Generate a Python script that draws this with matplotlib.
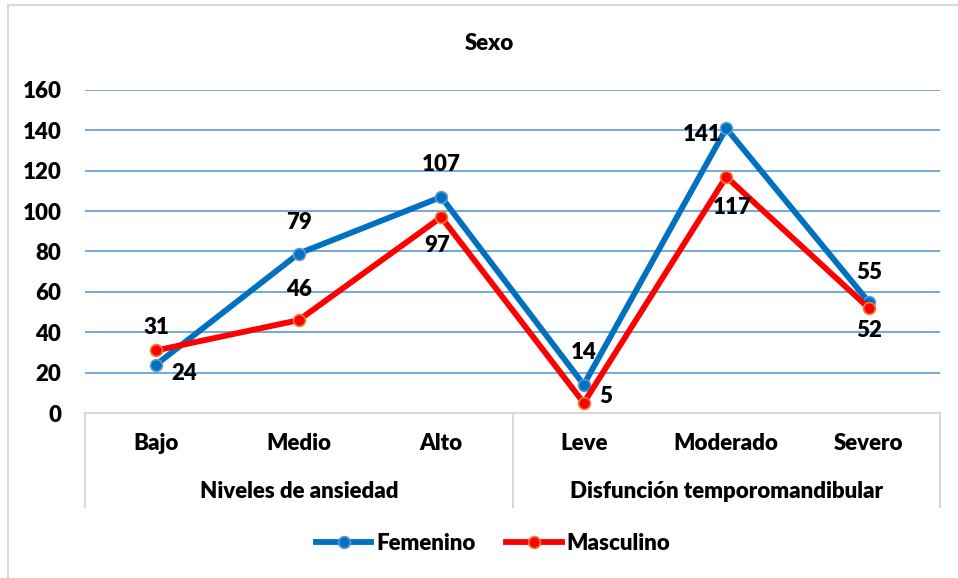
import matplotlib
matplotlib.use("Agg")
import matplotlib.pyplot as plt
from matplotlib import font_manager
from matplotlib.patches import Rectangle

categories = ["Bajo", "Medio", "Alto", "Leve", "Moderado", "Severo"]
groups = ["Niveles de ansiedad", "Disfunción temporomandibular"]
femenino = [24, 79, 107, 14, 141, 55]
masculino = [31, 46, 97, 5, 117, 52]
y_ticks = [0, 20, 40, 60, 80, 100, 120, 140, 160]

# label offsets in pixels (dx, dy), picked by eye from the original
fem_offsets = [(28, -9), (0, 31), (0, 32), (0, 32), (-24, -6), (0, 29)]
mas_offsets = [(0, 23), (0, 31), (-4, -28), (22, 6), (6, -31), (0, -22)]

available = {f.name for f in font_manager.fontManager.ttflist}
family = next(f for f in ["Lato", "Liberation Sans", "DejaVu Sans"] if f in available)
plt.rcParams["font.family"] = [family, "DejaVu Sans"]
WEIGHT = "heavy"
FS = 16
plt.rcParams["font.weight"] = WEIGHT

W, H = 958, 578
fig = plt.figure(figsize=(W / 100, H / 100), dpi=100)
ax = fig.add_axes([85 / W, 1 - 413 / H, 855 / W, 323 / H])

# chart border (only left and top are in view)
fig.patches.append(Rectangle((8 / W, -0.1), 1.2, 1 - 5 / H + 0.1, transform=fig.transFigure,
                             fill=False, edgecolor="#D9D9D9", linewidth=1.5))

x = list(range(len(categories)))
ax.plot(x, femenino, color="#0070C0", linewidth=4.2, marker="o", markersize=8.5,
        markerfacecolor="#0070C0", markeredgecolor="#5B9BD5", markeredgewidth=1.2,
        label="Femenino", zorder=3)
ax.plot(x, masculino, color="#FF0000", linewidth=4.2, marker="o", markersize=8.5,
        markerfacecolor="#FF0000", markeredgecolor="#ED7D31", markeredgewidth=1.2,
        label="Masculino", zorder=4)

for xi, v, (dx, dy) in zip(x, femenino, fem_offsets):
    ax.annotate(str(v), (xi, v), xytext=(dx, dy), textcoords="offset pixels",
                ha="center", va="center", fontsize=FS, fontweight=WEIGHT, zorder=5)
for xi, v, (dx, dy) in zip(x, masculino, mas_offsets):
    ax.annotate(str(v), (xi, v), xytext=(dx, dy), textcoords="offset pixels",
                ha="center", va="center", fontsize=FS, fontweight=WEIGHT, zorder=5)

ax.set_xlim(-0.5, len(categories) - 0.5)
ax.set_ylim(0, 160)
ax.set_yticks(y_ticks)
ax.yaxis.grid(True, color="#5B9BD5", linewidth=1.2)
ax.set_axisbelow(True)
ax.tick_params(axis="y", length=0, pad=17, labelsize=FS)
for lab in ax.get_yticklabels():
    lab.set_fontweight(WEIGHT)
ax.set_xticks([])
for side in ["left", "right", "top"]:
    ax.spines[side].set_visible(False)
ax.spines["bottom"].set_color("#D9D9D9")
ax.spines["bottom"].set_linewidth(1.5)

# two-level category axis
axis_h = 323
for xa in [0, 0.5, 1]:
    ax.plot([xa, xa], [0, -94 / axis_h], transform=ax.transAxes, clip_on=False,
            color="#D9D9D9", linewidth=1.5)
tr = ax.get_xaxis_transform()
for xi, c in zip(x, categories):
    ax.text(xi, -31 / axis_h, c, transform=tr, ha="center", va="center",
            fontsize=FS, fontweight=WEIGHT)
for gi, g in enumerate(groups):
    ax.text(0.25 + 0.5 * gi, -79 / axis_h, g, transform=ax.transAxes, ha="center",
            va="center", fontsize=FS, fontweight=WEIGHT)

fig.text(489 / W, 1 - 44 / H, "Sexo", ha="center", va="center", fontsize=FS,
         fontweight=WEIGHT)

fig.legend(loc="center", bbox_to_anchor=(493 / W, 1 - 543 / H), ncol=2, frameon=False,
           handlelength=2.5, handletextpad=0.2, columnspacing=1.4,
           prop={"weight": WEIGHT, "size": FS})

fig.savefig("out.png", dpi=100)
